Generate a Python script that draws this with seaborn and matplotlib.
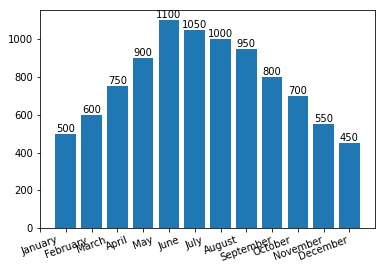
import numpy as np
import pandas as pd
import matplotlib
matplotlib.use("Agg")
import matplotlib.pyplot as plt
import seaborn as sns

months = ["January", "February", "March", "April", "May", "June", "July",
          "August", "September", "October", "November", "December"]
values = [500, 600, 750, 900, 1100, 1050, 1000, 950, 800, 700, 550, 450]

plt.rcParams.update(matplotlib.rcParamsDefault)
plt.rcParams["font.family"] = ["DejaVu Sans"]
plt.rcParams["font.size"] = 10

W, H = 385, 270
fig = plt.figure(figsize=(W / 72, H / 72), dpi=72)
ax = fig.add_axes([40 / W, 1 - 228 / H, (375 - 40) / W, (228 - 10) / H])

pos = np.arange(1, len(months) + 1)
df = pd.DataFrame({"pos": pos, "value": values})
sns.barplot(data=df, x="pos", y="value", native_scale=True, color="#1f77b4",
            saturation=1, width=0.8, ax=ax, errorbar=None)

for c in ax.containers:
    ax.bar_label(c, labels=[str(v) for v in values], fontsize=10, padding=0)

ax.set_xlim(0.01, 12.99)
ax.set_ylim(0, 1155)
ax.set_yticks([0, 200, 400, 600, 800, 1000])
ax.set_xticks(np.arange(0, len(months) + 1))
ax.set_xticklabels(months + [""], rotation=20, ha="center")
ax.set_xlabel("")
ax.set_ylabel("")

fig.savefig("out.png", dpi=72)
